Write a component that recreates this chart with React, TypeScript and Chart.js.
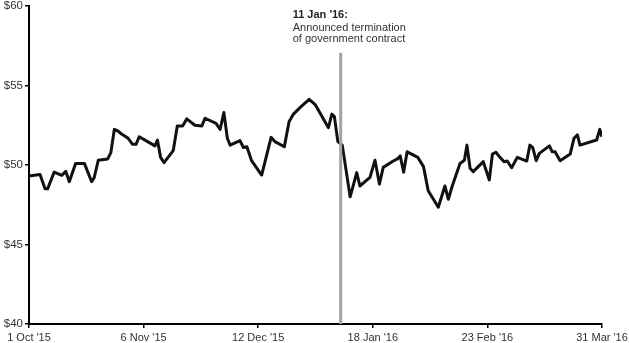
import React, { useEffect, useRef } from "react";
import { Chart, registerables } from "chart.js";

Chart.register(...registerables);

// Days since 1 Oct 2015 (x) and share price in $ (y)
const days = [
  0, 3.5, 5.1, 5.9, 8.0, 10.4, 11.7, 12.8, 14.8, 17.6, 19.9, 20.7, 22.0, 25.0, 26.0, 27.1, 28.2, 29.4,
  31.5, 32.9, 34.0, 35.0, 37.4, 40.0, 40.8, 41.8, 42.9, 45.8, 47.1, 48.8, 50.1, 52.7, 54.9, 55.9,
  59.4, 60.7, 61.9, 63.0, 63.9, 67.0, 68.1, 69.2, 70.7, 73.9, 76.9, 78.1, 81.1, 82.6, 84.0, 86.4,
  89.0, 90.9, 95.1, 96.2, 97.0, 98.1, 99.5, 102.0, 104.1, 105.1, 108.3, 109.9, 111.3, 112.5, 115.7,
  117.0, 117.9, 119.0, 120.1, 123.5, 125.3, 126.8, 130.0, 132.1, 133.2, 134.3, 136.9, 138.3, 139.1,
  140.1, 141.1, 144.3, 146.2, 147.2, 148.3, 149.6, 150.9, 151.9, 153.3, 155.1, 158.1, 159.1, 160.0,
  161.1, 162.1, 165.3, 166.2, 167.1, 168.7, 171.9, 173.1, 174.2, 175.0, 180.3, 181.3, 182.0,
];
const prices = [
  49.3, 49.4, 48.5, 48.5, 49.55, 49.35, 49.6, 48.95, 50.1, 50.1, 48.95, 49.2, 50.3, 50.38, 50.78, 52.24, 52.15, 51.95,
  51.68, 51.3, 51.3, 51.78, 51.5, 51.2, 51.57, 50.48, 50.15, 50.9, 52.45, 52.45, 52.9, 52.5, 52.45, 52.94,
  52.62, 52.24, 53.3, 51.68, 51.25, 51.53, 51.1, 51.15, 50.27, 49.37, 51.74, 51.47, 51.15, 52.72, 53.2, 53.67,
  54.13, 53.8, 52.35, 53.2, 53.04, 51.47, 51.25, 48.0, 49.52, 48.68, 49.22, 50.3, 48.8, 49.85, 50.25,
  50.38, 50.57, 49.55, 50.83, 50.48, 49.9, 48.38, 47.34, 48.68, 47.84, 48.6, 50.1, 50.3, 51.25,
  49.79, 49.58, 50.21, 49.06, 50.69, 50.8, 50.48, 50.21, 50.25, 49.83, 50.48, 50.25, 51.25, 51.09,
  50.27, 50.73, 51.2, 50.83, 50.83, 50.27, 50.69, 51.68, 51.89, 51.25, 51.57, 52.24, 51.78,
];

const tickValues = [0, 36.4, 72.8, 109.2, 145.6, 182];
const tickLabels = ["1 Oct '15", "6 Nov '15", "12 Dec '15", "18 Jan '16", "23 Feb '16", "31 Mar '16"];

const eventDay = 99;
const eventLineTop = 57.06;
const eventTitle = "11 Jan '16:";
const eventLines = ["Announced termination", "of government contract"];

const FONT = "'Liberation Sans', Arial, sans-serif";

export default function App() {
  const ref = useRef<HTMLCanvasElement | null>(null);

  useEffect(() => {
    if (!ref.current) return;
    const annotationPlugin = {
      id: "eventText",
      afterDraw(chart: any) {
        const ctx = chart.ctx;
        const xs = chart.scales.x;
        const x0 = xs.getPixelForValue(eventDay) - 48;
        const top = chart.chartArea.top;
        ctx.save();
        ctx.fillStyle = "#222";
        ctx.textAlign = "left";
        ctx.textBaseline = "alphabetic";
        ctx.font = `bold 11px ${FONT}`;
        ctx.fillText(eventTitle, x0, top + 12.3);
        ctx.font = `11px ${FONT}`;
        ctx.fillStyle = "#333";
        eventLines.forEach((t, i) => ctx.fillText(t, x0, top + 24.5 + i * 11.9));
        ctx.restore();
      },
    };

    const chart = new Chart(ref.current, {
      type: "line",
      data: {
        datasets: [
          {
            data: [
              { x: eventDay, y: 40 },
              { x: eventDay, y: eventLineTop },
            ],
            borderColor: "#a3a3a3",
            borderWidth: 3,
            pointRadius: 0,
            borderCapStyle: "butt",
          },
          {
            data: days.map((d, i) => ({ x: d, y: prices[i] })),
            borderColor: "#111",
            borderWidth: 3,
            pointRadius: 0,
            tension: 0,
            borderJoinStyle: "round",
          },
        ],
      },
      options: {
        animation: false,
        responsive: false,
        layout: { padding: { top: 6, right: 27, left: 0, bottom: 0 } },
        plugins: { legend: { display: false }, tooltip: { enabled: false } },
        scales: {
          x: {
            type: "linear",
            min: 0,
            max: 182,
            afterBuildTicks: (scale: any) => {
              scale.ticks = tickValues.map((v) => ({ value: v }));
            },
            afterFit: (scale: any) => {
              scale.height = 19;
              scale.paddingLeft = 0;
              scale.paddingRight = 0;
            },
            ticks: {
              autoSkip: false,
              maxRotation: 0,
              padding: 3,
              color: "#333",
              font: { family: FONT, size: 11 },
              callback: (_v: any, i: number) => tickLabels[i],
            },
            grid: { drawOnChartArea: false, drawTicks: true, tickLength: 4, color: "#000", lineWidth: 1.5 },
            border: { display: true, color: "#000", width: 2 },
          },
          y: {
            min: 40,
            max: 60,
            afterFit: (scale: any) => {
              scale.width = 29;
              scale.paddingTop = 0;
              scale.paddingBottom = 0;
            },
            ticks: {
              stepSize: 5,
              padding: 2,
              color: "#333",
              font: { family: FONT, size: 11.5 },
              callback: (v: any) => "$" + v,
            },
            grid: { drawOnChartArea: false, drawTicks: true, tickLength: 4, color: "#000", lineWidth: 1.5 },
            border: { display: true, color: "#000", width: 2 },
          },
        },
      },
      plugins: [annotationPlugin],
    });
    return () => chart.destroy();
  }, []);

  return (
    <div style={{ position: "fixed", left: 0, top: 0, width: 629, height: 343, background: "#fff" }}>
      <canvas ref={ref} width={629} height={343} />
    </div>
  );
}
